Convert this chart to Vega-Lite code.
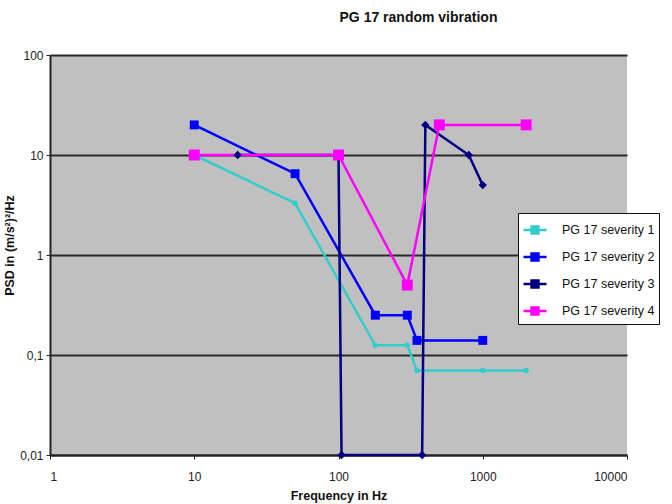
{
  "$schema": "https://vega.github.io/schema/vega-lite/v6.json",
  "autosize": "none",
  "width": 577,
  "height": 400,
  "padding": {"left": 50, "top": 55, "right": 45, "bottom": 49},
  "background": "white",
  "config": {
    "font": "Liberation Sans",
    "view": {"fill": "#C0C0C0", "stroke": null}
  },
  "title": {
    "text": "PG 17 random vibration",
    "fontSize": 14,
    "fontWeight": "bold",
    "font": "Liberation Sans",
    "color": "#111",
    "anchor": "middle",
    "dx": 80,
    "offset": 24
  },
  "data": {
    "values": [
      {"series": "PG 17 severity 1", "f": 10, "psd": 10},
      {"series": "PG 17 severity 1", "f": 50, "psd": 3.3},
      {"series": "PG 17 severity 1", "f": 180, "psd": 0.125},
      {"series": "PG 17 severity 1", "f": 300, "psd": 0.125},
      {"series": "PG 17 severity 1", "f": 350, "psd": 0.07},
      {"series": "PG 17 severity 1", "f": 1000, "psd": 0.07},
      {"series": "PG 17 severity 1", "f": 2000, "psd": 0.07},
      {"series": "PG 17 severity 2", "f": 10, "psd": 20},
      {"series": "PG 17 severity 2", "f": 50, "psd": 6.5},
      {"series": "PG 17 severity 2", "f": 180, "psd": 0.25},
      {"series": "PG 17 severity 2", "f": 300, "psd": 0.25},
      {"series": "PG 17 severity 2", "f": 350, "psd": 0.14},
      {"series": "PG 17 severity 2", "f": 1000, "psd": 0.14},
      {"series": "PG 17 severity 3", "f": 20, "psd": 10},
      {"series": "PG 17 severity 3", "f": 100, "psd": 10},
      {"series": "PG 17 severity 3", "f": 105, "psd": 0.01},
      {"series": "PG 17 severity 3", "f": 380, "psd": 0.01},
      {"series": "PG 17 severity 3", "f": 400, "psd": 20},
      {"series": "PG 17 severity 3", "f": 800, "psd": 10},
      {"series": "PG 17 severity 3", "f": 1000, "psd": 5},
      {"series": "PG 17 severity 4", "f": 10, "psd": 10},
      {"series": "PG 17 severity 4", "f": 100, "psd": 10},
      {"series": "PG 17 severity 4", "f": 300, "psd": 0.5},
      {"series": "PG 17 severity 4", "f": 500, "psd": 20},
      {"series": "PG 17 severity 4", "f": 2000, "psd": 20}
    ]
  },
  "encoding": {
    "x": {
      "field": "f", "type": "quantitative",
      "scale": {"type": "log", "domain": [1, 10000], "nice": false},
      "axis": {
        "title": "Frequency in Hz",
        "values": [1, 10, 100, 1000, 10000],
        "labelExpr": "toString(datum.value)",
        "grid": false,
        "domainColor": "#222", "domainWidth": 2,
        "tickColor": "#222", "tickSize": 4,
        "labelFontSize": 12, "labelColor": "#222", "labelPadding": 12,
        "titleFontSize": 12.5, "titleFontWeight": "bold", "titleColor": "#111",
        "titlePadding": 7
      }
    },
    "y": {
      "field": "psd", "type": "quantitative",
      "scale": {"type": "log", "domain": [0.01, 100], "nice": false},
      "axis": {
        "title": "PSD in (m/s²)²/Hz",
        "titleY": 190,
        "values": [0.01, 0.1, 1, 10, 100],
        "labelExpr": "replace(toString(datum.value), '.', ',')",
        "grid": true, "gridColor": "#2a2a2a", "gridWidth": 2, "gridOpacity": 1,
        "domainColor": "#222", "domainWidth": 2,
        "tickColor": "#222", "tickSize": 4,
        "labelFontSize": 12, "labelColor": "#222", "labelPadding": 3,
        "titleFontSize": 12.5, "titleFontWeight": "bold", "titleColor": "#111",
        "titlePadding": 3
      }
    },
    "color": {
      "field": "series", "type": "nominal",
      "scale": {
        "domain": ["PG 17 severity 1", "PG 17 severity 2", "PG 17 severity 3", "PG 17 severity 4"],
        "range": ["#33CCCC", "#0000FF", "#000080", "#FF00FF"]
      },
      "legend": {
        "title": null,
        "orient": "none",
        "legendX": 468,
        "legendY": 158,
        "fillColor": "white",
        "strokeColor": "#111",
        "padding": 4,
        "labelFontSize": 12.5,
        "labelColor": "#111",
        "labelOffset": 14,
        "rowPadding": 5,
        "symbolType": "M-1,0H1M-0.3,-0.3H0.3V0.3H-0.3Z",
        "symbolSize": 530,
        "symbolStrokeWidth": 2.5
      }
    }
  },
  "layer": [
    {
      "mark": {"type": "line", "strokeWidth": 2.5}
    },
    {
      "transform": [{"filter": "datum.series == 'PG 17 severity 1'"}],
      "mark": {"type": "point", "filled": true, "opacity": 1, "shape": "circle", "size": 30}
    },
    {
      "transform": [{"filter": "datum.series == 'PG 17 severity 2'"}],
      "mark": {"type": "point", "filled": true, "opacity": 1, "shape": "square", "size": 80}
    },
    {
      "transform": [{"filter": "datum.series == 'PG 17 severity 3'"}],
      "mark": {"type": "point", "filled": true, "opacity": 1, "shape": "diamond", "size": 70}
    },
    {
      "transform": [{"filter": "datum.series == 'PG 17 severity 4'"}],
      "mark": {"type": "point", "filled": true, "opacity": 1, "shape": "square", "size": 120}
    }
  ]
}
